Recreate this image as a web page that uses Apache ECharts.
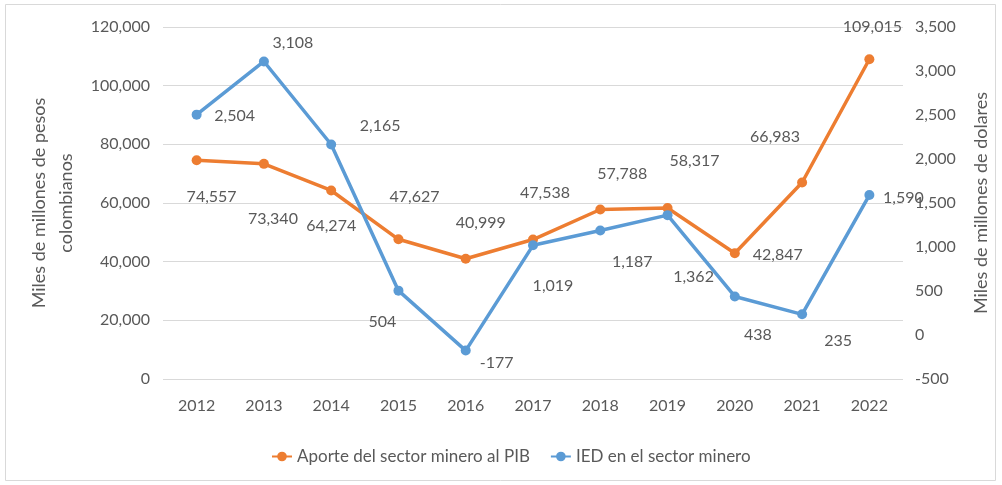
<!DOCTYPE html>
<html>
<head>
<meta charset="utf-8">
<script src="https://cdn.jsdelivr.net/npm/echarts@6/dist/echarts.min.js"></script>
<style>
  html, body { margin: 0; padding: 0; background: #fff; }
  #chart { width: 1002px; height: 485px; }
</style>
</head>
<body>
<div id="chart"></div>
<script>
const years = ['2012', '2013', '2014', '2015', '2016', '2017', '2018', '2019', '2020', '2021', '2022'];
const aportePIB = [74557, 73340, 64274, 47627, 40999, 47538, 57788, 58317, 42847, 66983, 109015];
const iedMinero = [2504, 3108, 2165, 504, -177, 1019, 1187, 1362, 438, 235, 1590];

// where each data label sits relative to its point (px)
const pibLabelOffsets = [[15, 37], [9, 55], [0, 35], [16, -42], [15, -36], [12, -47], [22, -36], [27, -47], [43, 2], [-27, -46], [3, -32]];
const iedLabelOffsets = [[38, 1], [29, -19], [49, -19], [-16, 31], [31, 12], [20, 41], [32, 31], [26, 62], [23, 38], [36, 27], [34, 3]];

const ORANGE = '#ED7D31';
const BLUE = '#5B9BD5';
const TEXT = '#595959';
const FONT = 'Lato, "Open Sans", sans-serif';

const fmt = v => Number(v).toLocaleString('en-US');

const chart = echarts.init(document.getElementById('chart'), null, { renderer: 'canvas' });

function withLabels(values, offsets) {
  return values.map((v, i) => ({ value: v, label: { offset: offsets[i] } }));
}

chart.setOption({
  animation: false,
  backgroundColor: '#fff',
  textStyle: { fontFamily: FONT },
  graphic: [{
    type: 'rect',
    shape: { x: 5.5, y: 4.5, width: 990, height: 476 },
    style: { fill: 'none', stroke: '#d9d9d9', lineWidth: 1 },
    silent: true,
  }],
  grid: { left: 163, right: 99, top: 27, bottom: 106 },
  legend: {
    left: 266, top: 443,
    itemWidth: 20, itemHeight: 12, itemGap: 20,
    textStyle: { color: TEXT, fontSize: 17, fontFamily: FONT },
    data: ['Aporte del sector minero al PIB', 'IED en el sector minero'],
  },
  xAxis: {
    type: 'category',
    data: years,
    boundaryGap: true,
    axisLine: { show: false },
    axisTick: { show: false },
    axisLabel: { color: TEXT, fontSize: 16, margin: 19, fontFamily: FONT },
  },
  yAxis: [
    {
      type: 'value',
      min: 0, max: 120000, interval: 20000,
      name: 'Miles de millones de pesos\ncolombianos',
      nameLocation: 'middle',
      nameRotate: 90,
      nameGap: 80,
      nameTextStyle: { color: TEXT, fontSize: 18, lineHeight: 27, fontFamily: FONT },
      axisLine: { show: false },
      axisTick: { show: false },
      axisLabel: { color: TEXT, fontSize: 16, margin: 13, formatter: fmt, fontFamily: FONT },
      splitLine: { show: true, lineStyle: { color: '#d9d9d9', width: 1 } },
    },
    {
      type: 'value',
      min: -500, max: 3500, interval: 500,
      name: 'Miles de millones de dolares',
      nameLocation: 'middle',
      nameRotate: 90,
      nameGap: 69,
      nameTextStyle: { color: TEXT, fontSize: 18, fontFamily: FONT },
      axisLine: { show: false },
      axisTick: { show: false },
      axisLabel: { color: TEXT, fontSize: 16, margin: 12, formatter: fmt, fontFamily: FONT },
      splitLine: { show: false },
    },
  ],
  series: [
    {
      name: 'Aporte del sector minero al PIB',
      type: 'line',
      yAxisIndex: 0,
      data: withLabels(aportePIB, pibLabelOffsets),
      symbol: 'circle', symbolSize: 10,
      lineStyle: { color: ORANGE, width: 3.5 },
      itemStyle: { color: ORANGE },
      label: {
        show: true, position: 'inside',
        color: TEXT, fontSize: 16, fontFamily: FONT,
        formatter: p => fmt(p.value),
      },
      z: 2,
    },
    {
      name: 'IED en el sector minero',
      type: 'line',
      yAxisIndex: 1,
      data: withLabels(iedMinero, iedLabelOffsets),
      symbol: 'circle', symbolSize: 10,
      lineStyle: { color: BLUE, width: 3.5 },
      itemStyle: { color: BLUE },
      label: {
        show: true, position: 'inside',
        color: TEXT, fontSize: 16, fontFamily: FONT,
        formatter: p => fmt(p.value),
      },
      z: 3,
    },
  ],
});
</script>
</body>
</html>
